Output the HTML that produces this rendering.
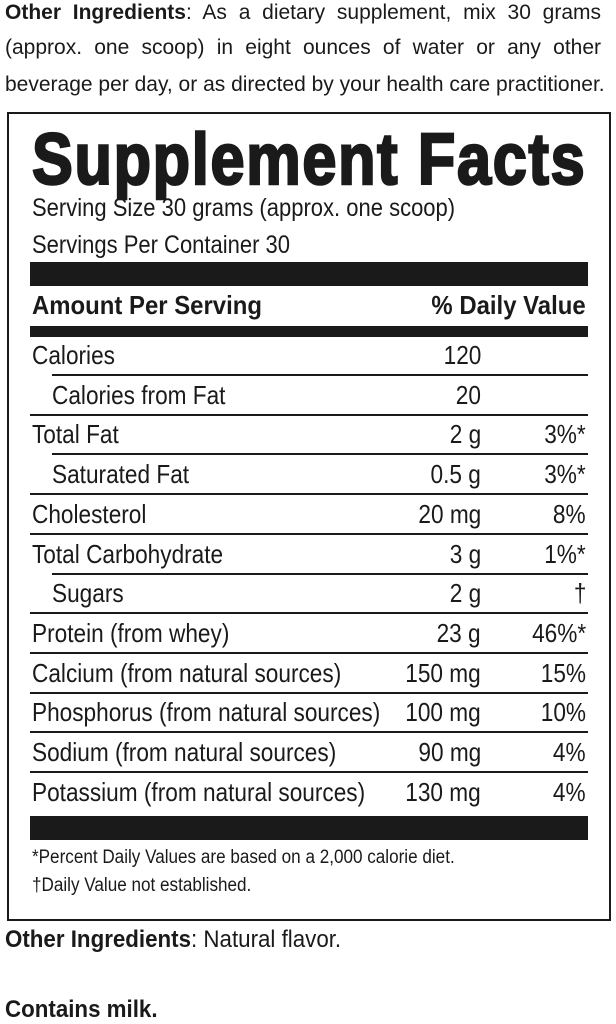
<!DOCTYPE html>
<html><head><meta charset="utf-8"><style>
body{margin:0;width:616px;height:1024px;background:#fff;position:relative;overflow:hidden;font-family:"Liberation Sans",sans-serif;color:#1a1a1a}
.t{position:absolute;white-space:nowrap;transform-origin:0 50%;line-height:1}
.r{position:absolute;white-space:nowrap;transform-origin:100% 50%;line-height:1;text-align:right}
.p{position:absolute;left:5px;width:596px;font-size:21px;text-align:justify;text-align-last:justify;white-space:nowrap;line-height:1}
.bar{position:absolute;background:#1a1a1a;left:30px;width:558px}
.ln{position:absolute;height:2px;background:#1a1a1a;right:28px}
</style></head><body>
<div class="p" style="top:2px"><b>Other Ingredients</b>: As a dietary supplement, mix 30 grams</div>
<div class="p" style="top:37px">(approx. one scoop) in eight ounces of water or any other</div>
<div class="p" style="top:74px">beverage per day, or as directed by your health care practitioner.</div>

<div style="position:absolute;left:7px;top:112px;width:600px;height:805px;border:2px solid #1a1a1a"></div>

<div class="t" style="left:32px;top:124px;font-size:72px;font-weight:bold;letter-spacing:2px;-webkit-text-stroke:2.5px #1a1a1a;transform:scaleX(0.85)">Supplement Facts</div>
<div class="t" style="left:32px;top:196px;font-size:25px;transform:scaleX(0.88)">Serving Size 30 grams (approx. one scoop)</div>
<div class="t" style="left:32px;top:233px;font-size:25px;transform:scaleX(0.88)">Servings Per Container 30</div>
<div class="bar" style="top:262px;height:24px"></div>
<div class="t" style="left:32px;top:292px;font-size:26px;font-weight:bold;transform:scaleX(0.92)">Amount Per Serving</div>
<div class="r" style="right:30px;top:292px;font-size:26px;font-weight:bold;transform:scaleX(0.92)">% Daily Value</div>
<div class="bar" style="top:326px;height:11px"></div>

<div id="rows"></div>
<script>
var rows=[["Calories","120","",0],["Calories from Fat","20","",1],["Total Fat","2 g","3%*",0],["Saturated Fat","0.5 g","3%*",1],["Cholesterol","20 mg","8%",0],["Total Carbohydrate","3 g","1%*",0],["Sugars","2 g","†",1],["Protein (from whey)","23 g","46%*",0],["Calcium (from natural sources)","150 mg","15%",0],["Phosphorus (from natural sources)","100 mg","10%",0],["Sodium (from natural sources)","90 mg","4%",0],["Potassium (from natural sources)","130 mg","4%",0]];
var h="";
for(var i=0;i<rows.length;i++){var y=342+i*39.7;var r=rows[i];
h+='<div class="t" style="left:'+(r[3]?52:32)+'px;top:'+y+'px;font-size:26px;transform:scaleX(0.87)">'+r[0]+'</div>';
h+='<div class="r" style="right:135px;top:'+y+'px;font-size:26px;transform:scaleX(0.87)">'+r[1]+'</div>';
h+='<div class="r" style="right:30px;top:'+y+'px;font-size:26px;transform:scaleX(0.87)">'+r[2]+'</div>';
if(i<rows.length-1){var nx=rows[i+1][3]?52:30;h+='<div class="ln" style="left:'+nx+'px;top:'+(y+32)+'px"></div>';}}
document.getElementById("rows").innerHTML=h;
</script>
<div class="bar" style="top:816px;height:24px"></div>
<div class="t" style="left:32px;top:848px;font-size:19px;transform:scaleX(0.9)">*Percent Daily Values are based on a 2,000 calorie diet.</div>
<div class="t" style="left:32px;top:876px;font-size:19px;transform:scaleX(0.9)">†Daily Value not established.</div>
<div class="t" style="left:5px;top:928px;font-size:24px;transform:scaleX(0.93)"><b>Other Ingredients</b>: Natural flavor.</div>
<div class="t" style="left:5px;top:998px;font-size:24px;font-weight:bold;transform:scaleX(0.93)">Contains milk.</div>
</body></html>
